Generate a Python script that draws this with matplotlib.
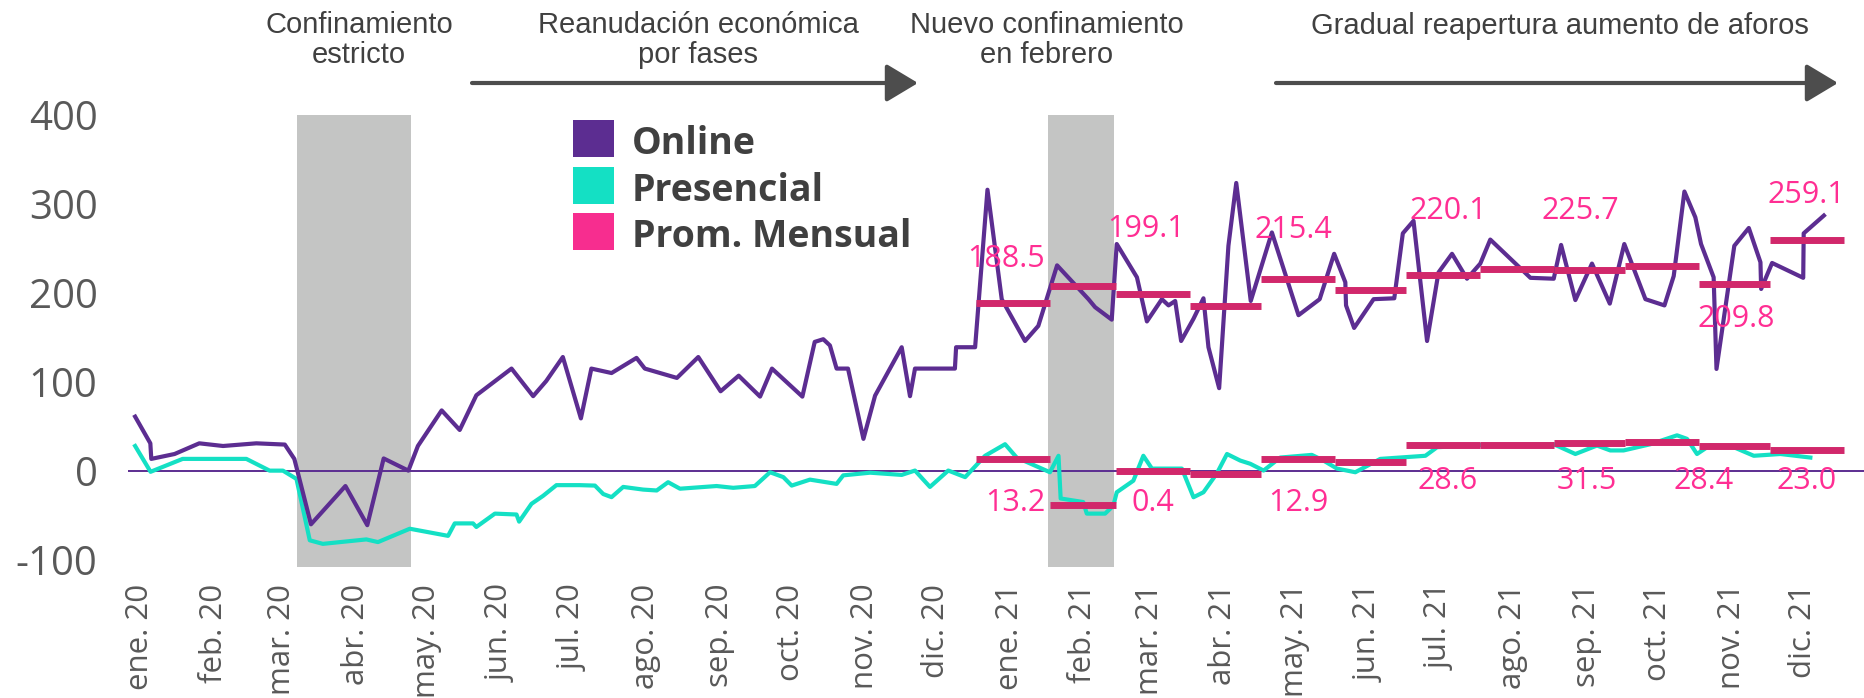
import pandas as pd
import matplotlib
matplotlib.use("Agg")
import matplotlib.pyplot as plt
from matplotlib.patches import Rectangle, FancyArrowPatch

W, H = 1865, 698
BASE = pd.Timestamp("2020-01-01")

# weekly series, x = days since 1 Jan 2020
online_days = [12, 18.4, 18.8, 28.6, 39, 49, 63, 75, 79, 86, 100.5, 109.7, 116.6, 127, 131, 141,
               148.6, 155.6, 170.4, 179.5, 185, 192, 199.6, 204, 212.5, 223, 226.5, 240, 249,
               258.4, 266, 275, 280, 292.8, 298, 301.6, 304.4, 307.2, 312, 318.5, 323.4, 334.6,
               338.1, 340.2, 357, 357.5, 365.5, 370.7, 376.7, 386.5, 392.1, 400, 413.2, 416, 423,
               425.1, 433.6, 437.8, 444.1, 446.9, 449.7, 452.2, 457.4, 461.6, 463.7, 468.2, 472.1,
               475.4, 481.5, 490.4, 501.6, 510.5, 516.6, 521.3, 521.6, 525, 533.2, 541.9, 545.5,
               550, 555.7, 560.5, 566.2, 572.5, 578.1, 582.3, 599.2, 609, 612.1, 618.1, 625.1,
               632.6, 638.7, 647.6, 655.6, 659.5, 664, 668.6, 671, 676.3, 677.5, 685, 691.1, 696,
               696.3, 700.9, 714, 714.2, 722.7]
online_vals = [61, 31, 13.5, 19, 31, 28, 31, 29.6, 13.5, -60, -17, -61, 14, 0.3, 28, 68,
               46, 85, 115, 84, 101, 128, 59, 115, 110, 127, 115, 104.5, 128,
               89.5, 107, 83.5, 115, 83.5, 145, 148, 141, 115, 115, 36, 84.6, 139,
               84, 115, 115, 139, 139, 316, 193, 146, 163, 231, 193, 184, 170,
               255, 217.6, 168, 193, 186, 191, 146, 171, 194, 139, 93, 253,
               323.6, 191, 268, 175, 193, 244, 212, 186, 160.7, 193, 194, 267,
               281, 146, 223, 244, 216, 233, 260, 217, 216, 254, 192, 233,
               188, 255, 193, 186, 219, 314, 285, 255, 217.6, 114.6, 253, 273, 234.5,
               204.5, 233.7, 217, 267, 287]

pres_days = [12, 18.5, 32, 58.8, 68.6, 74.2, 79.9, 85.5, 91, 109.3, 114.2, 127.6, 143.7, 146.5,
             154.2, 155.6, 163.4, 172.5, 173.6, 178.8, 183.7, 189.3, 199, 205.5, 209, 212.5,
             217.4, 225.8, 231.5, 236.3, 241.3, 256.7, 263.7, 272.8, 279.2, 284.8, 288.3, 296,
             307.2, 310, 321.3, 334.6, 340.2, 346.5, 354.2, 361.3, 369.7, 378.1, 383, 397,
             400.6, 401.5, 411, 412.5, 420.2, 423.7, 425.1, 432.1, 436.3, 439.9, 452.5, 457.4,
             461.6, 467.2, 471.5, 477.1, 481.3, 486.9, 493.9, 507.2, 512.1, 517.8, 525.5, 536,
             555, 559.9, 576.7, 609, 618.1, 627.2, 632.8, 638.4, 649.7, 660.9, 665.1, 669.3,
             674.9, 684.8, 693.2, 704.4, 717]
pres_vals = [28, -1, 13.5, 13.5, 0.3, 0.3, -9, -78, -82, -77, -80, -65, -73, -59,
             -59, -63, -48, -49, -57, -37, -28, -16, -16, -16.5, -26, -29.5,
             -18, -21, -22, -12.7, -20, -17, -19, -17, -1.5, -7, -16.5, -9.8,
             -14.6, -5, -2, -4.5, 0.4, -18, 0.4, -7, 17, 30, 15, -1.5,
             17, -31, -35, -48, -48, -39, -24, -11, 17, 2.6, 2.6, -29.6,
             -24, -3, 19, 11.6, 8, 0.4, 15, 18, 11.6, 2.6, -1.5, 13.5,
             17, 26.6, 29, 30, 19, 28.5, 23, 23, 30, 40, 36, 19,
             29, 26.6, 17, 19, 15]

month_labels = ["ene. 20", "feb. 20", "mar. 20", "abr. 20", "may. 20", "jun. 20",
                "jul. 20", "ago. 20", "sep. 20", "oct. 20", "nov. 20", "dic. 20",
                "ene. 21", "feb. 21", "mar. 21", "abr. 21", "may. 21", "jun. 21",
                "jul. 21", "ago. 21", "sep. 21", "oct. 21", "nov. 21", "dic. 21"]

# monthly averages 2021
avg_online = [188.5, 208, 199.1, 185, 215.4, 203, 220.1, 227, 225.7, 230, 209.8, 259.1]
avg_pres = [13.2, -38, 0.4, -3, 12.9, 10, 28.6, 29, 31.5, 32, 28.4, 23.0]
labelled_months = [0, 2, 4, 6, 8, 10, 11]

lockdowns = [(80, 128), (396, 424)]

PURPLE = "#5c2d91"
TURQ = "#14e0c4"
AVG = "#d1286b"
PINK = "#ff2e93"
GREY = "#c4c5c4"
TXT = "#404040"

month_start = [(pd.Timestamp(2020 + i // 12, i % 12 + 1, 1) - BASE).days for i in range(25)]
tick_pos = [d + 14 for d in month_start[:24]]

fig = plt.figure(figsize=(W / 100, H / 100), dpi=100)
ax = fig.add_axes([128 / W, 1 - 567 / H, 1 - 128 / W, (567 - 115) / H])

for a, b in lockdowns:
    ax.axvspan(a, b, color=GREY, lw=0, zorder=0)
ax.axhline(0, color=PURPLE, lw=1.4, zorder=1)

ax.plot(online_days, online_vals, color=PURPLE, lw=3, zorder=3)
ax.plot(pres_days, pres_vals, color=TURQ, lw=3, zorder=2)

for i in range(12):
    a, b = month_start[12 + i], month_start[13 + i]
    ax.plot([a, b], [avg_online[i], avg_online[i]], color=AVG, lw=5, solid_capstyle="butt", zorder=4)
    ax.plot([a, b], [avg_pres[i], avg_pres[i]], color=AVG, lw=5, solid_capstyle="butt", zorder=4)

# value labels (layout: text centre in data units)
online_lab_y = [238, 272, 271, 292, 292, 171, 310]
online_lab_dx = [-3, -3, -2, 2, -4, 1, 0]
pres_lab_y = [-36, -36, -36, -11, -11, -11, -11]
pres_lab_dx = [1, 0, 0, 2, -1, -13, 0]
lab_font = dict(family="Open Sans", fontsize=22, color=PINK, ha="center", va="center", zorder=5)
for k, m in enumerate(labelled_months):
    c = (month_start[12 + m] + month_start[13 + m]) / 2
    ax.text(c + online_lab_dx[k], online_lab_y[k], f"{avg_online[m]:.1f}", **lab_font)
    ax.text(c + pres_lab_dx[k], pres_lab_y[k], f"{avg_pres[m]:.1f}", **lab_font)

ax.set_xlim(9, 740)
ax.set_ylim(-108, 400)
ax.set_yticks([-100, 0, 100, 200, 300, 400])
ax.set_yticklabels(["-100", "0", "100", "200", "300", "400"], family="Open Sans",
                   fontsize=29, color="#595959")
ax.set_xticks(tick_pos)
ax.set_xticklabels(month_labels, rotation=90, family="Open Sans", fontsize=22.5, color="#595959")
ax.tick_params(axis="y", length=0, pad=22)
ax.tick_params(axis="x", length=0, pad=12)
for s in ax.spines.values():
    s.set_visible(False)

# legend
leg = [("Online", PURPLE), ("Presencial", TURQ), ("Prom. Mensual", "#f72d8f")]
for k, (name, col) in enumerate(leg):
    yc = 138.5 + 46.5 * k
    fig.patches.append(Rectangle((573 / W, 1 - (yc + 18.5) / H), 41 / W, 37 / H,
                                 transform=fig.transFigure, color=col, lw=0))
    fig.text(632 / W, 1 - (yc + 6) / H, name, family="Open Sans", weight="bold", fontsize=27,
             color=TXT, va="center", ha="left")

# phase annotations
narrow = ["Liberation Sans", "DejaVu Sans"]
phases = [("Confinamiento\nestricto", 359, 40), ("Reanudación económica\npor fases", 698, 40),
          ("Nuevo confinamiento\nen febrero", 1047, 40), ("Gradual reapertura aumento de aforos", 1560, 26)]
for t, x, y in phases:
    fig.text(x / W, 1 - y / H, t, family=narrow, fontsize=21, color=TXT, ha="center",
             va="center", linespacing=1.1)

for x0, x1 in [(472, 918), (1276, 1838)]:
    fig.patches.append(FancyArrowPatch(
        (x0 / W, 1 - 83 / H), (x1 / W, 1 - 83 / H), transform=fig.transFigure,
        arrowstyle="-|>,head_length=0.75,head_width=0.45", mutation_scale=26,
        lw=3, color="#4d4d4d", shrinkA=0, shrinkB=0))

fig.savefig("out.png", dpi=100)
